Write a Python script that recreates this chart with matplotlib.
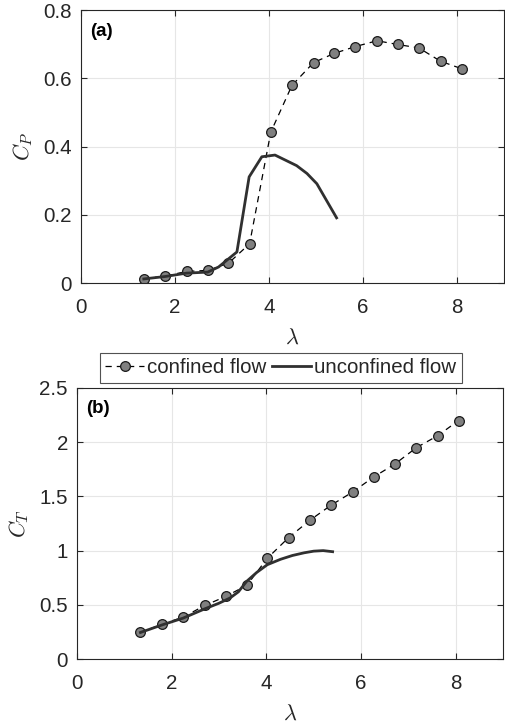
import numpy as np
import matplotlib
matplotlib.use('Agg')
import matplotlib.pyplot as plt

plt.rcParams['font.family'] = ['Liberation Sans', 'DejaVu Sans']
plt.rcParams['mathtext.fontset'] = 'cm'

# confined flow (markers + dashed)
tsr_conf = [1.34, 1.79, 2.25, 2.70, 3.14, 3.59, 4.04, 4.49, 4.95, 5.39, 5.84, 6.30, 6.74, 7.19, 7.65, 8.10]
cp_conf = [0.013, 0.020, 0.034, 0.037, 0.058, 0.115, 0.442, 0.579, 0.646, 0.673, 0.693, 0.710, 0.699, 0.689, 0.650, 0.628]
tsr_conf_t = [1.34, 1.80, 2.24, 2.70, 3.14, 3.59, 4.02, 4.47, 4.92, 5.37, 5.82, 6.27, 6.72, 7.17, 7.62, 8.06]
ct_conf = [0.245, 0.322, 0.386, 0.494, 0.577, 0.681, 0.929, 1.12, 1.28, 1.42, 1.54, 1.68, 1.80, 1.95, 2.06, 2.20]

# unconfined flow (solid line)
tsr_unc = [1.34, 1.79, 2.25, 2.70, 2.93, 3.32, 3.58, 3.85, 4.13, 4.59, 4.81, 5.02, 5.44]
cp_unc = [0.012, 0.019, 0.029, 0.032, 0.047, 0.091, 0.311, 0.370, 0.375, 0.344, 0.321, 0.291, 0.191]
tsr_unc_t = [1.34, 1.80, 2.24, 2.70, 3.00, 3.23, 3.41, 3.58, 3.80, 4.02, 4.30, 4.55, 4.80, 5.00, 5.20, 5.40]
ct_unc = [0.245, 0.315, 0.377, 0.463, 0.515, 0.562, 0.620, 0.715, 0.800, 0.870, 0.920, 0.955, 0.980, 0.995, 1.000, 0.990]

dark = '#262626'
fs = 14.8


def style(ax):
    ax.set_xlim(0, 9)
    ax.set_xticks([0, 2, 4, 6, 8])
    ax.grid(True, color='#e6e6e6', lw=0.8)
    ax.set_axisbelow(True)
    ax.tick_params(direction='in', top=True, right=True, labelsize=fs,
                   colors=dark, length=4, width=0.8)
    ax.tick_params(axis='x', pad=10.5)
    ax.tick_params(axis='y', pad=6.5)
    for s in ax.spines.values():
        s.set_color(dark)
        s.set_linewidth(0.8)
    ax.set_xlabel(r'$\lambda$', fontsize=16, color=dark, labelpad=8)


fig = plt.figure(figsize=(5.05, 7.27), dpi=100)
ax1 = fig.add_axes([0.160, 0.6107, 0.838, 0.3755])
ax2 = fig.add_axes([0.1525, 0.0935, 0.8436, 0.3728])

for ax, xc, yc, xu, yu in [(ax1, tsr_conf, cp_conf, tsr_unc, cp_unc),
                           (ax2, tsr_conf_t, ct_conf, tsr_unc_t, ct_unc)]:
    ax.plot(xc, yc, '--o', color='black', lw=0.9, dashes=(5, 4),
            marker='o', ms=7, mfc='#808080', mec='#1a1a1a', mew=0.9,
            label='confined flow')
    ax.plot(xu, yu, '-', color='#303030', lw=2.0, label='unconfined flow')
    style(ax)

ax1.set_ylim(0, 0.8)
ax1.set_yticks([0, 0.2, 0.4, 0.6, 0.8])
ax1.set_yticklabels(['0', '0.2', '0.4', '0.6', '0.8'])
ax1.set_ylabel(r'$C_P$', fontsize=16, color=dark, labelpad=6)
ax1.text(0.021, 0.923, '(a)', transform=ax1.transAxes, fontsize=13.5,
         fontweight='bold', color='black', va='center')

ax2.set_ylim(0, 2.5)
ax2.set_yticks([0, 0.5, 1, 1.5, 2, 2.5])
ax2.set_yticklabels(['0', '0.5', '1', '1.5', '2', '2.5'])
ax2.set_ylabel(r'$C_T$', fontsize=16, color=dark, labelpad=6)
ax2.text(0.021, 0.923, '(b)', transform=ax2.transAxes, fontsize=13.5,
         fontweight='bold', color='black', va='center')

leg = ax2.legend(loc='lower center', bbox_to_anchor=(0.4777, 1.018), ncol=2,
                 fontsize=fs, frameon=True, fancybox=False, handlelength=1.9,
                 handletextpad=0.12, columnspacing=0.3, borderpad=0.28,
                 borderaxespad=0)
leg.get_frame().set_edgecolor(dark)
leg.get_frame().set_linewidth(0.8)
for t in leg.get_texts():
    t.set_color(dark)

plt.savefig('out.png', dpi=100)
